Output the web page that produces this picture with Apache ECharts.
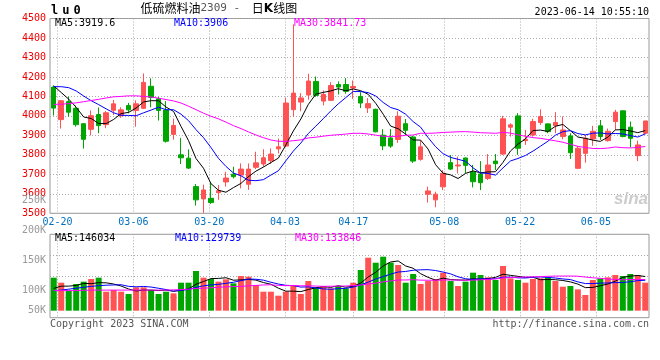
<!DOCTYPE html>
<html><head><meta charset="utf-8">
<script src="https://cdn.jsdelivr.net/npm/echarts@6/dist/echarts.min.js"></script>
<style>html,body{margin:0;padding:0;background:#fff}#c{width:660px;height:360px}</style>
</head><body><div id="c"></div>
<script>
const dates = ['02-17','02-20','02-21','02-22','02-23','02-24','02-27','02-28','03-01','03-02','03-03','03-06','03-07','03-08','03-09','03-10','03-13','03-14','03-15','03-16','03-17','03-20','03-21','03-22','03-23','03-24','03-27','03-28','03-29','03-30','03-31','04-03','04-04','04-06','04-07','04-10','04-11','04-12','04-13','04-14','04-17','04-18','04-19','04-20','04-21','04-24','04-25','04-26','04-27','04-28','05-04','05-05','05-08','05-09','05-10','05-11','05-12','05-15','05-16','05-17','05-18','05-19','05-22','05-23','05-24','05-25','05-26','05-29','05-30','05-31','06-01','06-02','06-05','06-06','06-07','06-08','06-09','06-12','06-13','06-14'];
const tickLabels = ['02-20','03-06','03-20','04-03','04-17','05-08','05-22','06-05'];
const opens = [4148,3981,4073,4039,3960,3931,4007,3955,4029,4001,4053,4028,4039,4152,4088,4030,3905,3800,3783,3637,3574,3577,3606,3661,3701,3696,3649,3736,3753,3770,3831,3845,4032,4071,4107,4177,4076,4080,4161,4161,4143,4100,4041,4034,3901,3887,3879,3960,3892,3777,3598,3569,3636,3760,3743,3784,3712,3702,3679,3768,3804,3942,4000,3873,3902,3966,3959,3950,3894,3897,3731,3808,3882,3949,3873,3971,4026,3942,3796,3911];
const highs = [4156,4082,4099,4053,3962,4028,4043,4025,4082,4044,4067,4080,4218,4193,4098,4076,3986,3887,3828,3650,3647,3657,3645,3713,3739,3756,3756,3816,3829,3833,3884,4093,4470,4117,4216,4202,4131,4173,4177,4194,4182,4122,4092,4037,3932,3932,4024,3984,3897,3872,3637,3611,3722,3799,3791,3786,3748,3768,3804,3804,4000,3962,4014,3928,3985,4034,3962,4019,3997,3911,3846,3902,3949,3979,3935,4031,4028,3971,3873,3975];
const lows = [4002,3935,3996,3945,3832,3900,3911,3937,4005,3990,4013,3945,4035,4044,3976,3863,3878,3753,3727,3540,3502,3548,3569,3637,3679,3628,3620,3727,3739,3753,3807,3840,3995,4024,4083,4098,4054,4076,4110,4114,4087,4040,4015,3916,3824,3836,3862,3901,3759,3770,3555,3531,3619,3722,3705,3705,3633,3619,3671,3722,3799,3894,3800,3851,3894,3954,3911,3911,3880,3779,3727,3760,3847,3877,3868,3928,3890,3839,3768,3905];
const closes = [4040,4078,4019,3955,3880,4001,3950,4016,4062,4031,4031,4062,4172,4095,4028,3870,3951,3785,3732,3569,3620,3555,3616,3681,3688,3727,3727,3759,3785,3804,3841,4066,4117,4092,4179,4105,4110,4156,4148,4126,4151,4066,4063,3918,3846,3845,3998,3926,3768,3841,3615,3598,3705,3727,3748,3746,3662,3657,3748,3755,3985,3954,3834,3880,3971,3997,3919,3966,3928,3811,3834,3885,3921,3894,3921,4019,3894,3885,3851,3974];
const volumes = [141100,119700,84100,114000,124000,135400,141100,81200,88400,81200,71300,99800,99800,88400,71300,81200,74100,119700,119700,169600,141100,135400,124000,134000,116900,148200,145400,109700,81200,81200,64100,81200,109700,71300,126800,99800,105500,95500,105500,95500,119700,173900,226600,205200,230900,205200,195200,119700,156800,114000,126800,135400,162500,126800,105500,124000,162500,152500,142500,131100,191000,138200,131100,119700,135400,138200,142500,126800,102600,105500,91200,67000,131100,138200,142500,152500,148200,156800,152500,119700];
// moving-average values before enough history is visible
const ma5Head = [4154,4120,4086,4044];
const ma10Head = [4150,4150,4145,4128,4102,4078,4058,4036,4016];
const ma30Head = [4059,4060,4063,4067,4073,4079,4085,4092,4098,4100,4103,4103,4100,4097,4091,4084,4077,4066,4050,4032,4014,3998,3985,3968,3950,3935,3918,3902,3888];
const vma5Head = [95000,105000,105000,108000];
const vma10Head = [86000,88000,92000,96000,100000,104000,107000,109000,110000];
const vma30Head = [86000,86000,86000,86000,87000,88000,88000,88000,88000,88000,88000,88000,88000,88000,88000,88000,89000,90000,92000,95000,96000,98000,100000,102000,103000,104000,106000,108000,110000];
const volTickLabels = ['250K','200K','150K','100K','50K'];
const priceMaText = ['MA5:3919.6','MA10:3906','MA30:3841.73'];
const volMaText = ['MA5:146034','MA10:129739','MA30:133846'];
const titleCode = 'lu0';
const titleName = '低硫燃料油';
const titleContract = '2309';
const timeText = '2023-06-14 10:55:10';
const copyText = 'Copyright 2023 SINA.COM';
const urlText = 'http://finance.sina.com.cn';

function movingAvg(vals, n, head) {
  return vals.map((v, i) => {
    if (i < head.length) return head[i];
    let s = 0;
    for (let k = i - n + 1; k <= i; k++) s += vals[k];
    return +(s / n).toFixed(2);
  });
}
const RED = '#ff5252', GREEN = '#00a600';
const MONO = '"DejaVu Sans Mono", monospace';
const dotted = { color: '#aaaaaa', width: 1, type: [1, 2] };
const showTick = (i, v) => tickLabels.includes(v);

const chart = echarts.init(document.getElementById('c'), null, { renderer: 'canvas' });
const candleData = dates.map((d, i) => [opens[i], closes[i], lows[i], highs[i]]);
const volData = volumes.map((v, i) => ({ value: v, itemStyle: { color: closes[i] >= opens[i] ? RED : GREEN } }));

function maLine(name, data, color, xi, yi) {
  return { name, type: 'line', data, xAxisIndex: xi, yAxisIndex: yi, showSymbol: false, symbol: 'none',
    lineStyle: { color, width: 1 }, itemStyle: { color }, z: 5, silent: true };
}
function txt(x, y, text, fill, extra) {
  return { type: 'text', x, y, z: 100, style: Object.assign({ text, fill, font: '10px ' + MONO, textVerticalAlign: 'middle' }, extra || {}) };
}
const bandAxis = (gi) => ({ type: 'category', gridIndex: gi, data: dates, boundaryGap: true, position: 'bottom',
  axisLine: { show: false }, axisTick: { show: false }, axisLabel: { show: false }, splitLine: { show: false } });
const dateAxis = (gi, labels) => ({ type: 'category', gridIndex: gi, data: dates, boundaryGap: false, position: 'bottom',
  axisLine: { show: false }, axisTick: { show: false },
  axisLabel: labels ? { interval: showTick, color: '#0070c0', fontFamily: MONO, fontSize: 10, margin: 4 } : { show: false },
  splitLine: { show: true, interval: showTick, lineStyle: dotted } });

chart.setOption({
  animation: false,
  backgroundColor: '#fff',
  grid: [
    { left: 50, right: 11, top: 18.5, height: 194.8, show: true, borderColor: '#999', borderWidth: 1 },
    { left: 50, right: 11, top: 234.3, height: 83.4, show: true, borderColor: '#999', borderWidth: 1 },
    { left: 50, right: 11, top: 200.3, height: 90, show: false },
    { left: 50, right: 11, top: 300.3, height: 10, show: false }
  ],
  xAxis: [
    bandAxis(0),
    bandAxis(1),
    dateAxis(0, true),
    dateAxis(1, false),
    { type: 'value', gridIndex: 2, show: false, min: 0, max: 1 },
    { type: 'value', gridIndex: 3, show: false, min: 0, max: 1 }
  ],
  yAxis: [
    { type: 'value', gridIndex: 0, min: 3500, max: 4500, interval: 100,
      axisLine: { show: false }, axisTick: { show: false },
      axisLabel: { color: '#ee0000', fontFamily: MONO, fontSize: 10, margin: 4, formatter: v => String(v) },
      splitLine: { show: true, lineStyle: dotted } },
    { type: 'value', gridIndex: 1, min: -30000, max: 326600, show: false },
    { type: 'value', gridIndex: 1, min: 0, max: 4, interval: 1, inverse: true, position: 'left',
      axisLine: { show: false }, axisTick: { show: false }, axisLabel: { show: false },
      splitLine: { show: true, lineStyle: dotted } },
    { type: 'value', gridIndex: 2, min: 100000, max: 250000, interval: 50000,
      axisLine: { show: false }, axisTick: { show: false }, splitLine: { show: false },
      axisLabel: { color: '#999', fontFamily: MONO, fontSize: 10, margin: 4,
        formatter: v => { const s = Math.round(v / 1000) + 'K'; return volTickLabels.includes(s) ? s : ''; } } },
    { type: 'value', gridIndex: 3, min: 50000, max: 60000, interval: 10000,
      axisLine: { show: false }, axisTick: { show: false }, splitLine: { show: false },
      axisLabel: { color: '#999', fontFamily: MONO, fontSize: 10, margin: 4, showMaxLabel: false,
        formatter: v => { const s = Math.round(v / 1000) + 'K'; return (v === 50000 && volTickLabels.includes(s)) ? s : ''; } } }
  ],
  series: [
    { type: 'candlestick', xAxisIndex: 0, yAxisIndex: 0, data: candleData, barWidth: 5, silent: true,
      itemStyle: { color: RED, color0: GREEN, borderColor: RED, borderColor0: GREEN, borderWidth: 1 } },
    maLine('MA5', movingAvg(closes, 5, ma5Head), '#000000', 0, 0),
    maLine('MA10', movingAvg(closes, 10, ma10Head), '#0000ff', 0, 0),
    maLine('MA30', movingAvg(closes, 30, ma30Head), '#ff00ff', 0, 0),
    { type: 'bar', xAxisIndex: 1, yAxisIndex: 1, data: volData, barWidth: 6, silent: true },
    maLine('VMA5', movingAvg(volumes, 5, vma5Head), '#000000', 1, 1),
    maLine('VMA10', movingAvg(volumes, 10, vma10Head), '#0000ff', 1, 1),
    maLine('VMA30', movingAvg(volumes, 30, vma30Head), '#ff00ff', 1, 1)
  ],
  graphic: [
    { type: 'text', x: 49, y: 11, z: 100, style: { text: titleCode.split('').map(c => '{a|' + c + '}').join(''),
      textVerticalAlign: 'middle', rich: { a: { font: 'bold 12px ' + MONO, fill: '#000', padding: [0, 2, 0, 2] } } } },
    { type: 'text', x: 140.5, y: 8.5, z: 100, style: {
      text: '{cn|' + titleName + '}{num|' + titleContract + ' - }{cn2|日}{k|K}{cn|线图}',
      textVerticalAlign: 'middle',
      rich: {
        cn: { font: '12px "Noto Sans CJK SC"', fill: '#000' },
        cn2: { font: '12px "Noto Sans CJK SC"', fill: '#000', padding: [0, 0, 0, 5] },
        num: { font: '11px ' + MONO, fill: '#555' },
        k: { font: 'bold 12px "DejaVu Sans"', fill: '#000' }
      } } },
    txt(649, 12, timeText, '#000', { textAlign: 'right' }),
    txt(55, 23.5, priceMaText[0], '#000'),
    txt(174, 23.5, priceMaText[1], '#0000ff'),
    txt(294, 23.5, priceMaText[2], '#ff00ff'),
    txt(55, 238.5, volMaText[0], '#000'),
    txt(175, 238.5, volMaText[1], '#0000ff'),
    txt(295, 238.5, volMaText[2], '#ff00ff'),
    txt(50, 324, copyText, '#555'),
    txt(649, 324, urlText, '#555', { textAlign: 'right' }),
    { type: 'text', x: 648, y: 199, z: 1, style: { text: 'sina', fill: '#cccccc', textAlign: 'right', textVerticalAlign: 'middle',
      font: 'italic bold 17px "Liberation Sans"' } }
  ]
});
</script></body></html>
